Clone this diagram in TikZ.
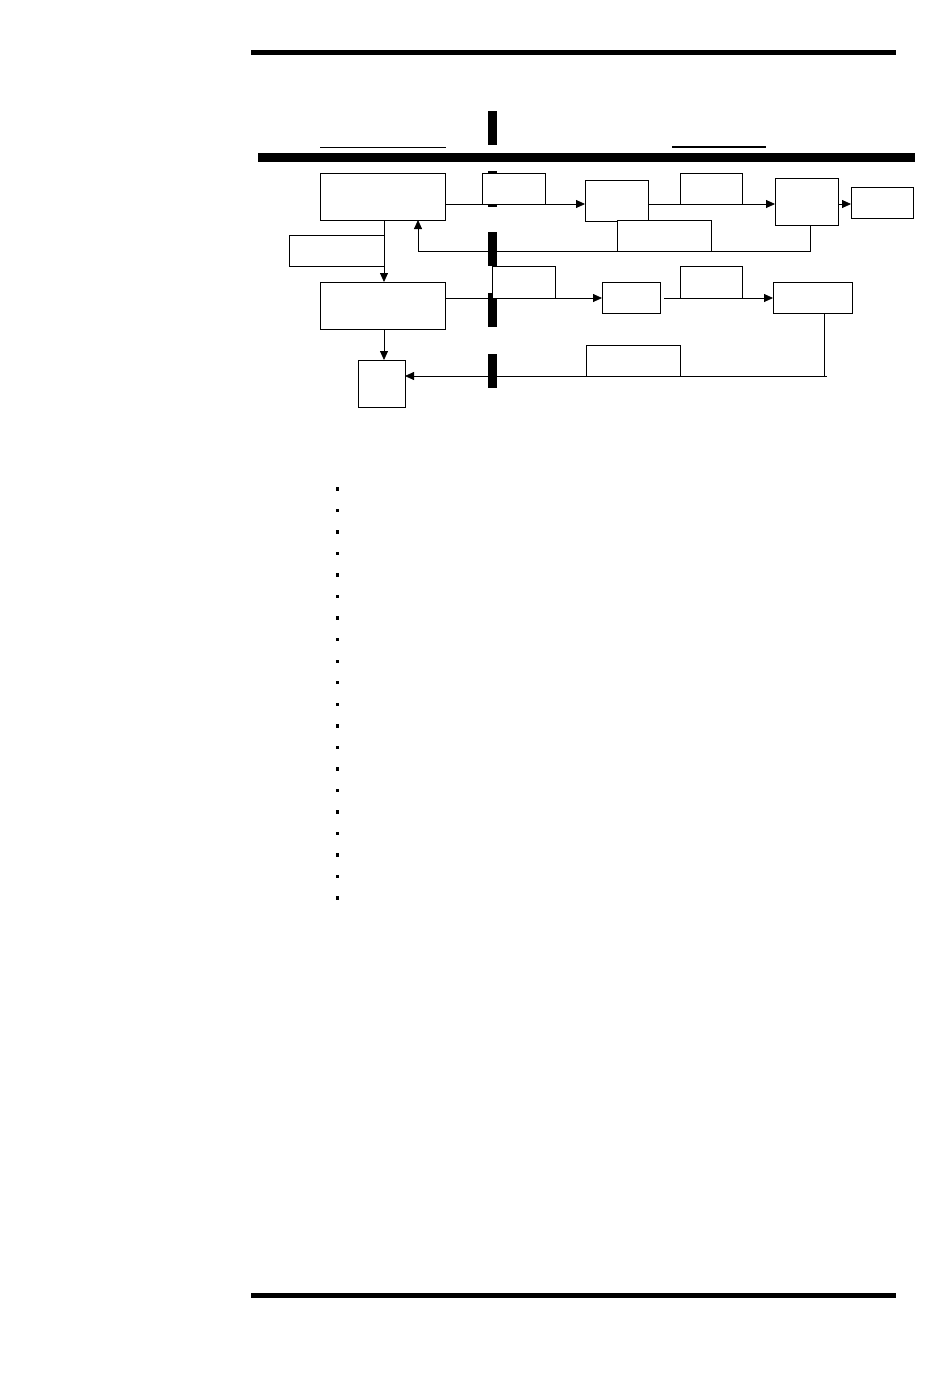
\documentclass[tikz,border=0pt]{standalone}
\usetikzlibrary{arrows.meta,calc}
\begin{document}
\begin{tikzpicture}[x=1pt,y=-1pt,
  box/.style={draw, fill=white, line width=0.8pt, inner sep=0pt, outer sep=0pt, anchor=north west},
  barnode/.style={fill=black, draw=none, inner sep=0pt, outer sep=0pt, minimum width=9pt, anchor=north west},
  conn/.style={line width=0.8pt},
  arr/.style={line width=0.8pt, -{Triangle[length=9pt,width=8pt]}},
  rulefill/.style={fill=black, draw=none}]
\useasboundingbox (0,0) rectangle (950,1379);
% page rules
\fill[rulefill] (251,50) rectangle (896,54.5);
\fill[rulefill] (251,1293) rectangle (896,1298);
% thick header bar and underlines
\fill[rulefill] (258,153) rectangle (915,162);
\draw[line width=1.5pt] (320,147.5) -- (446,147.5);
\draw[line width=1.5pt] (672,147) -- (766,147);
% vertical bars
\node[barnode, minimum height=34pt] (bar1) at (488,111) {};
\node[barnode, minimum height=36pt] (bar2) at (488,171) {};
\node[barnode, minimum height=34pt] (bar3) at (488,232) {};
\node[barnode, minimum height=34pt] (bar4) at (488,293) {};
\node[barnode, minimum height=34pt] (bar5) at (488,354) {};
% boxes
\node[box, minimum width=125pt, minimum height=47pt] (A) at (320,173) {};
\node[box, minimum width=63pt, minimum height=31pt] (B) at (482,173) {};
\node[box, minimum width=63pt, minimum height=41pt] (C) at (585,180) {};
\node[box, minimum width=62pt, minimum height=31pt] (D) at (680,173) {};
\node[box, minimum width=63pt, minimum height=47pt] (E) at (775,178) {};
\node[box, minimum width=62pt, minimum height=31pt] (F) at (851,187) {};
\node[box, minimum width=94pt, minimum height=31pt] (G) at (617,220) {};
\node[box, minimum width=95pt, minimum height=31pt] (H) at (289,235) {};
\node[box, minimum width=125pt, minimum height=47pt] (I) at (320,282) {};
\node[box, minimum width=63pt, minimum height=32pt] (K) at (492,266) {};
\node[box, minimum width=58pt, minimum height=31pt] (J) at (602,282) {};
\node[box, minimum width=62pt, minimum height=32pt] (M) at (680,266) {};
\node[box, minimum width=79pt, minimum height=31pt] (L) at (773,282) {};
\node[box, minimum width=94pt, minimum height=31pt] (N) at (586,345) {};
\node[box, minimum width=47pt, minimum height=47pt] (O) at (358,360) {};
% helper coordinates
\coordinate (fb) at (810,251);
\coordinate (fbA) at (418,251);
\coordinate (ret) at (824,376);
% connectors
\draw[arr] (A.east |- B.south) -- (C.west |- B.south);
\draw[arr] (C.east |- D.south) -- (E.west |- D.south);
\draw[arr] (E.east |- D.south) -- (F.west |- D.south);
\draw[arr] (E.south -| fb) -- (fb) -- (fbA) -- (A.south -| fbA);
\draw[arr] (A.south -| H.east) -- (I.north -| H.east);
\draw[arr] (I.east |- K.south) -- (J.west |- K.south);
\draw[arr] ([xshift=4pt]J.east |- M.south) -- (L.west |- M.south);
\draw[conn] (L.south -| ret) -- (ret);
\draw[arr] ([xshift=2.5pt]ret) -- (O.east |- ret);
\draw[arr] (I.south -| H.east) -- (O.north -| H.east);
% bullets
\foreach \i in {0,...,19}{
  \fill (336,{487.3+21.53*\i}) rectangle (339.4,{490.7+21.53*\i});
}
\end{tikzpicture}
\end{document}
